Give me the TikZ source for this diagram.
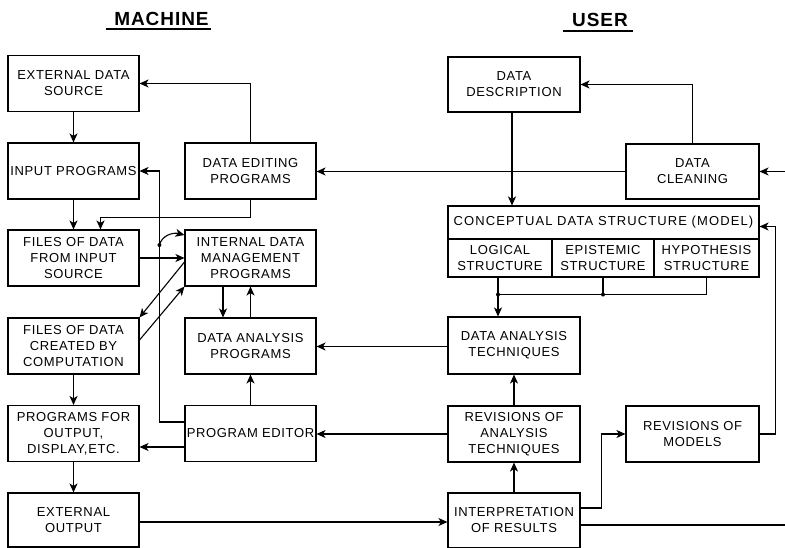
\documentclass[tikz,border=0pt]{standalone}
\usepackage{fontspec}
\newfontfamily\lblfont[LetterSpace=5]{Liberation Sans}
\newfontfamily\hdrfont[LetterSpace=8.5]{Liberation Sans}
\newfontfamily\ttlfont[LetterSpace=5]{Liberation Sans}
\usetikzlibrary{arrows.meta,calc}
\begin{document}
\begin{tikzpicture}[x=1pt,y=-1pt,
  box/.style={draw, line width=1.1pt, minimum width=131pt, minimum height=56pt, inner sep=0pt, align=center, font=\lblfont\fontsize{13}{16}\selectfont},
  arr/.style={line width=1.1pt, -{Stealth[length=9pt,width=8pt,inset=2.5pt]}},
  ln/.style={line width=1.1pt},
  thk/.style={line width=1.8pt},
  dot/.style={circle, fill, inner sep=0pt, minimum size=4pt},
  ttl/.style={font=\ttlfont\bfseries\fontsize{19}{22}\selectfont, inner sep=0pt, anchor=base}]
\useasboundingbox (0,0) rectangle (785,548);
% titles
\node[ttl] (tm) at (161.5,26) {MACHINE};
\draw[line width=1.3pt] ($(tm.base)+(-56,3)$) -- ($(tm.base)+(49,3)$);
\node[ttl] (tu) at (600,27) {USER};
\draw[line width=1.3pt] ($(tu.base)+(-37,4)$) -- ($(tu.base)+(33,4)$);
% machine boxes
\node[box] (eds) at (73.5,83.5) {EXTERNAL DATA\\SOURCE};
\node[box] (inp) at (73.5,171) {INPUT PROGRAMS};
\node[box] (dep) at (250.5,171) {DATA EDITING\\PROGRAMS};
\node[box] (fin) at (73.5,258) {FILES OF DATA\\FROM INPUT\\SOURCE};
\node[box] (idm) at (250.5,258) {INTERNAL DATA\\MANAGEMENT\\PROGRAMS};
\node[box] (fcc) at (73.5,346) {FILES OF DATA\\CREATED BY\\COMPUTATION};
\node[box] (dap) at (250.5,346) {DATA ANALYSIS\\PROGRAMS};
\node[box] (pfo) at (73.5,433.5) {PROGRAMS FOR\\OUTPUT,\\DISPLAY,ETC.};
\node[box] (ped) at (250.5,433.5) {PROGRAM EDITOR};
\node[box, minimum height=54pt] (eo) at (73.5,520) {EXTERNAL\\OUTPUT};
% user boxes
\node[box, minimum width=132pt, minimum height=55pt] (dd) at (514,84.5) {DATA\\DESCRIPTION};
\node[box, minimum width=133pt, minimum height=55pt] (dc) at (692.5,171.5) {DATA\\CLEANING};
\node[box, minimum width=311pt, minimum height=33pt, font=\hdrfont\fontsize{13}{16}\selectfont] (cds) at (603.5,222.5) {CONCEPTUAL DATA STRUCTURE (MODEL)};
\node[box, minimum width=104pt, minimum height=38pt] (log) at (500,258) {LOGICAL\\STRUCTURE};
\node[box, minimum width=102pt, minimum height=38pt] (epi) at (603,258) {EPISTEMIC\\STRUCTURE};
\node[box, minimum width=105pt, minimum height=38pt] (hyp) at (706.5,258) {HYPOTHESIS\\STRUCTURE};
\node[box, minimum width=132pt, minimum height=57pt] (dat) at (514,345.5) {DATA ANALYSIS\\TECHNIQUES};
\node[box, minimum width=132pt] (rat) at (514,434) {REVISIONS OF\\ANALYSIS\\TECHNIQUES};
\node[box, minimum width=133pt] (rom) at (692.5,434) {REVISIONS OF\\MODELS};
\node[box, minimum width=132pt, minimum height=55pt] (ior) at (514,520.5) {INTERPRETATION\\OF RESULTS};
% free ends
\coordinate (rin) at (785,171.5);
\coordinate (rout) at (785,525);
% connectors
\draw[arr] (eds) -- (inp);
\draw[arr] (dep.north) |- (eds.east);
\draw[arr] (dc.west) -- (dc.west -| dep.east);
\draw[arr] (rin) -- (dc.east);
\draw[arr] (dc.north) |- (dd.east);
\draw[arr,thk] ($(dd.south)+(-2,0)$) coordinate (ddb) -- (ddb |- cds.north);
\draw[arr] (inp) -- (fin);
\draw[arr] (dep.south) -- ++(0,18) -| ($(fin.north)+(27,0)$);
\coordinate (vx) at ($(ped.west)+(-25,-11.5)$);
\draw[arr] ($(ped.west)+(0,-11.5)$) -- (vx) |- (inp.east);
\coordinate (j1) at ($(vx |- idm.west)+(0,-13)$);
\draw[arr] (j1) .. controls +(2,-9) and +(-12,-3) .. ($(idm.west)+(0,-23)$);
\node[dot] at (j1) {};
\draw[arr] (fin.east) -- (idm.west);
\draw[arr] ($(idm.west)+(0,4)$) -- (fcc.north east);
\draw[arr] ($(fcc.east)+(0,-6)$) -- (idm.south west);
\draw[arr] ($(idm.south)+(-27.5,0)$) -- ($(dap.north)+(-27.5,0)$);
\draw[arr] (dap.north) -- (idm.south);
\draw[arr] (ped) -- (dap);
\draw[arr] (fcc) -- (pfo);
\draw[arr] ($(ped.west)+(0,13.5)$) -- ($(pfo.east)+(0,13.5)$);
\draw[arr] (pfo) -- (eo);
\coordinate (t1) at ($(eo.east)+(0,2)$);
\draw[arr] (t1) -- (t1 -| ior.west);
\coordinate (t2) at ($(dat.west)+(0,1)$);
\draw[arr] (t2) -- (t2 -| dap.east);
\draw[arr] (rat.west) -- (rat.west -| ped.east);
\draw[arr] (rat) -- (dat);
\draw[arr] (ior) -- (rat);
\draw[arr] ($(ior.east)+(0,-12.5)$) -- ++(21,0) |- (rom.west);
\draw[ln] ($(ior.east)+(0,4.5)$) -- (rout);
\draw[arr,thk] (rom.east) -- ++(16,0) |- ($(cds.east)+(0,4)$);
\coordinate (lb) at ($(log.south)+(-2,0)$);
\draw[arr] (lb) -- (lb |- dat.north);
\draw[ln] (hyp.south) -- ++(0,17) -| (lb);
\draw[ln] (epi.south) -- ++(0,17);
\node[dot] at ($(lb)+(0,17)$) {};
\node[dot] at ($(epi.south)+(0,17)$) {};
\end{tikzpicture}
\end{document}
